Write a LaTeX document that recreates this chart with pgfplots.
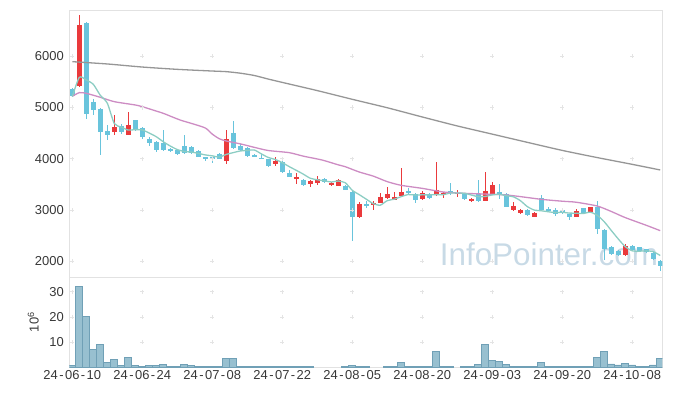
\documentclass[border=0pt]{standalone}
\usepackage{fontspec}
\setmainfont{Liberation Sans}
\usepackage{pgfplots}
\pgfplotsset{compat=1.18}
\usepackage{pgfplotstable}
\definecolor{upc}{RGB}{234,58,60}
\definecolor{dnc}{RGB}{105,196,220}
\definecolor{volc}{RGB}{152,192,208}
\definecolor{volb}{RGB}{112,160,182}
\definecolor{ma5c}{RGB}{140,205,195}
\definecolor{ma20c}{RGB}{205,140,195}
\definecolor{ma60c}{RGB}{150,150,150}
\definecolor{framec}{RGB}{226,226,226}
\definecolor{gridc}{RGB}{228,228,228}
\definecolor{labc}{RGB}{55,55,55}
\definecolor{wmc}{RGB}{200,218,230}
\newcommand\hy{\makebox[0.556em]{-}}

\pgfplotstableread{
i o h l c
1 5420 6806 5394 6611
6 4527 4848 4460 4619
8 4469 4906 4460 4658
22 3962 4561 3897 4378
29 3896 4040 3857 3962
32 3623 3727 3506 3643
34 3506 3584 3454 3558
35 3532 3662 3480 3603
37 3493 3545 3473 3532
38 3473 3604 3467 3584
41 2862 3154 2848 3115
43 3102 3174 2998 3141
44 3141 3324 3128 3245
45 3239 3441 3220 3311
46 3200 3350 3194 3252
47 3265 3812 3259 3350
50 3220 3369 3194 3337
52 3285 3929 3272 3382
53 3304 3356 3226 3337
55 3317 3389 3259 3337
57 3168 3230 3150 3207
59 3181 3734 3170 3369
60 3311 3545 3290 3487
63 2998 3155 2985 3076
64 2933 3010 2920 2998
66 2868 2960 2855 2946
72 2868 3024 2855 2985
74 2966 3060 2960 3050
79 2119 2328 2100 2295
}\upc

\pgfplotstableread{
i o h l c
0 5355 5375 5210 5230
2 6656 6670 4770 4873
3 5108 5170 4853 4951
4 4971 4985 4066 4527
5 4541 4658 4370 4463
7 4639 4671 4476 4527
9 4756 4762 4548 4574
10 4605 4620 4390 4430
11 4385 4430 4255 4312
12 4326 4340 4131 4170
13 4313 4561 4150 4170
14 4183 4210 4140 4151
15 4170 4190 4080 4092
16 4248 4463 4100 4118
17 4222 4240 4100 4118
18 4157 4170 4030 4040
19 4027 4040 3955 4001
20 4027 4040 3910 4001
21 4092 4110 3995 4001
23 4502 4743 4196 4216
24 4255 4280 4150 4165
25 4209 4230 4040 4059
26 4079 4092 4030 4040
27 4022 4085 4001 4001
28 3994 4000 3844 3864
30 3942 3950 3727 3747
31 3721 3779 3649 3649
33 3584 3604 3473 3493
36 3603 3617 3532 3545
39 3473 3493 3389 3389
40 3356 3389 2393 2868
42 3115 3174 3031 3095
48 3369 3421 3291 3343
49 3304 3337 3142 3194
51 3317 3337 3220 3239
54 3376 3519 3291 3350
56 3308 3320 3200 3220
58 3311 3584 3160 3174
61 3356 3506 3206 3291
62 3311 3330 3050 3063
65 2998 3010 2880 2901
67 3226 3291 2990 2998
68 3011 3050 2960 2979
69 2998 3031 2888 2914
70 2998 3010 2920 2933
71 2920 2930 2803 2868
73 3031 3040 2940 2946
75 3050 3174 2530 2627
76 2608 2620 2022 2237
77 2276 2290 2120 2139
78 2204 2215 2100 2119
80 2295 2310 2200 2217
81 2269 2285 2180 2198
82 2230 2245 2150 2172
83 2165 2180 2030 2048
84 2009 2020 1813 1911
}\dnc

\pgfplotstableread{
i v
0 0.7
1 32
2 20
3 7.1
4 9.1
5 2.0
6 3.0
7 0.7
8 3.9
9 0.7
10 0.4
11 0.7
12 0.7
13 1.2
14 0.4
15 0.4
16 1.2
17 0.8
18 0.4
19 0.4
20 0.4
21 0.4
22 3.6
23 3.6
24 0.4
25 0.4
26 0.4
27 0.4
28 0.4
29 0.4
30 0.4
31 0.4
32 0.4
33 0.4
34 0.4
39 0.4
40 0.8
41 0.4
42 0.4
45 0.4
46 0.4
47 2.0
48 0.4
49 0.4
50 0.4
51 0.4
52 6.3
53 0.4
54 0.4
56 0.4
57 0.4
58 1.2
59 9.1
60 2.8
61 2.4
62 1.2
63 0.4
64 0.4
65 0.4
66 0.4
67 2.0
68 0.4
69 0.4
70 0.4
71 0.4
72 0.4
73 0.4
74 0.4
75 4.0
76 6.3
77 1.3
78 0.9
79 1.6
80 0.9
81 0.4
82 0.4
83 0.9
84 3.6
}\vol

\begin{document}
\begin{tikzpicture}[x=1bp,y=1bp]
\useasboundingbox (0,0) rectangle (673,396);
\begin{axis}[
  at={(69.3bp,119bp)}, anchor=south west,
  width=593bp, height=267bp, scale only axis,
  xmin=-0.43, xmax=84.3, ymin=1690, ymax=6904,
  xtick=\empty, ytick={2000,3000,4000,5000,6000},
  tick style={draw=none},
  axis line style={draw=framec, line width=0.8bp},
  yticklabel style={font=\fontsize{13}{13}\selectfont, text=labc, xshift=-2bp},
  /pgf/number format/assume math mode=true,
  /pgf/number format/1000 sep={},
]
\addplot[only marks, mark=+, mark size=2.1bp, color=gridc, mark options={line width=0.6bp}, forget plot] coordinates {
(0,2000)(10,2000)(20,2000)(30,2000)(40,2000)(50,2000)(60,2000)(70,2000)(80,2000)
(0,3000)(10,3000)(20,3000)(30,3000)(40,3000)(50,3000)(60,3000)(70,3000)(80,3000)
(0,4000)(10,4000)(20,4000)(30,4000)(40,4000)(50,4000)(60,4000)(70,4000)(80,4000)
(0,5000)(10,5000)(20,5000)(30,5000)(40,5000)(50,5000)(60,5000)(70,5000)(80,5000)
(0,6000)(10,6000)(20,6000)(30,6000)(40,6000)(50,6000)(60,6000)(70,6000)(80,6000)
};
\node[anchor=base east, inner sep=0pt, font=\fontsize{31.5}{31.5}\selectfont, text=wmc] at (axis cs:83.7,1905) {InfoPointer.com};
% wicks
\addplot[draw=none, mark=none, forget plot, error bars/.cd, y dir=both, y explicit, error mark=none,
  error bar style={draw=upc, line width=1bp}]
  table[x=i, y expr={(\thisrow{h}+\thisrow{l})/2}, y error expr={(\thisrow{h}-\thisrow{l})/2}] {\upc};
\addplot[draw=none, mark=none, forget plot, error bars/.cd, y dir=both, y explicit, error mark=none,
  error bar style={draw=dnc, line width=1bp}]
  table[x=i, y expr={(\thisrow{h}+\thisrow{l})/2}, y error expr={(\thisrow{h}-\thisrow{l})/2}] {\dnc};
% bodies
\addplot[draw=none, mark=none, forget plot, error bars/.cd, y dir=both, y explicit, error mark=none,
  error bar style={draw=upc, line width=4.7bp}]
  table[x=i, y expr={(\thisrow{o}+\thisrow{c})/2}, y error expr={abs(\thisrow{c}-\thisrow{o})/2}] {\upc};
\addplot[draw=none, mark=none, forget plot, error bars/.cd, y dir=both, y explicit, error mark=none,
  error bar style={draw=dnc, line width=4.7bp}]
  table[x=i, y expr={(\thisrow{o}+\thisrow{c})/2}, y error expr={abs(\thisrow{c}-\thisrow{o})/2}] {\dnc};
% moving averages
\addplot[color=ma60c, line width=1.3bp, mark=none, smooth, tension=0.4] coordinates {
(0,5895)(5,5850)(10,5790)(15,5745)(20,5712)(22,5700)(24,5670)(26,5625)(28,5555)(30,5490)
(35,5330)(40,5160)(45,4995)(50,4815)(55,4640)(60,4480)(65,4320)(70,4162)(75,4022)(80,3890)(84,3780)};
\addplot[color=ma20c, line width=1.3bp, mark=none, smooth, tension=0.4] coordinates {
(0,5218)(1,5290)(2,5277)(4,5199)(6,5114)(9,5049)(10,5016)(12,4930)(13,4886)(15.4,4756)(17,4690)
(19,4600)(20,4480)(21,4390)(22,4345)(24,4290)(26,4222)(28,4160)(31,4118)(33,4050)(35.7,3974)
(38,3880)(39,3844)(41,3740)(43,3660)(45,3552)(47,3480)(50,3421)(53,3350)(56,3324)(62,3291)
(67,3207)(70,3170)(72,3150)(75,3076)(77,2970)(79,2850)(82,2700)(84,2595)};
\addplot[color=ma5c, line width=1.3bp, mark=none, smooth, tension=0.4] coordinates {
(0,5211)(1,5589)(2,5537)(3,5452)(4,5238)(5,5085)(6,4687)(7,4617)(8,4559)(9,4568)(10,4562)
(11,4500)(12,4429)(13,4331)(14,4247)(15,4179)(16,4140)(17,4130)(18,4104)(19,4074)(20,4056)
(21,4032)(22,4084)(23,4119)(24,4151)(25,4162)(26,4170)(27,4095)(28,4024)(29,3985)(30,3923)
(31,3845)(32,3773)(33,3699)(34,3618)(35,3589)(36,3568)(37,3546)(38,3564)(39,3531)(40,3384)
(41,3298)(42,3210)(43,3122)(44,3093)(45,3181)(46,3209)(47,3260)(48,3300)(49,3290)(50,3295)
(51,3293)(52,3299)(53,3298)(54,3329)(55,3329)(56,3326)(57,3291)(58,3259)(59,3263)(60,3293)
(61,3306)(62,3277)(63,3257)(64,3183)(65,3066)(66,2997)(67,2984)(68,2964)(69,2948)(70,2954)
(71,2938)(72,2936)(73,2929)(74,2956)(75,2895)(76,2769)(77,2600)(78,2434)(79,2283)(80,2201)
(81,2194)(82,2200)(83,2186)(84,2109)};
\end{axis}

\begin{axis}[
  at={(69.3bp,28.8bp)}, anchor=south west,
  width=593bp, height=90.2bp, scale only axis,
  xmin=-0.43, xmax=84.3, ymin=0, ymax=35.8,
  xtick={0,10,20,30,40,50,60,70,80},
  xticklabels={24\hy06\hy10,24\hy06\hy24,24\hy07\hy08,24\hy07\hy22,24\hy08\hy05,24\hy08\hy20,24\hy09\hy03,24\hy09\hy20,24\hy10\hy08},
  ytick={10,20,30},
  tick style={draw=none},
  axis line style={draw=framec, line width=0.8bp},
  yticklabel style={font=\fontsize{13}{13}\selectfont, text=labc, xshift=-2bp},
  xticklabel style={font=\fontsize{13}{13}\selectfont, text=labc},
  /pgf/number format/assume math mode=true,
  ylabel={10\textsuperscript{6}},
  every axis y label/.style={at={(axis description cs:-0.0607,0.5)}, rotate=90, anchor=center, font=\fontsize{13}{13}\selectfont, text=labc},
]
\addplot[only marks, mark=+, mark size=2.1bp, color=gridc, mark options={line width=0.6bp}, forget plot] coordinates {
(0,10)(10,10)(20,10)(30,10)(40,10)(50,10)(60,10)(70,10)(80,10)
(0,20)(10,20)(20,20)(30,20)(40,20)(50,20)(60,20)(70,20)(80,20)
(0,30)(10,30)(20,30)(30,30)(40,30)(50,30)(60,30)(70,30)(80,30)
};
\addplot[ybar, bar width=1, bar shift=0pt, fill=volc, draw=volb, line width=0.7bp] table[x=i, y=v] {\vol};
\end{axis}
\end{tikzpicture}
\end{document}
